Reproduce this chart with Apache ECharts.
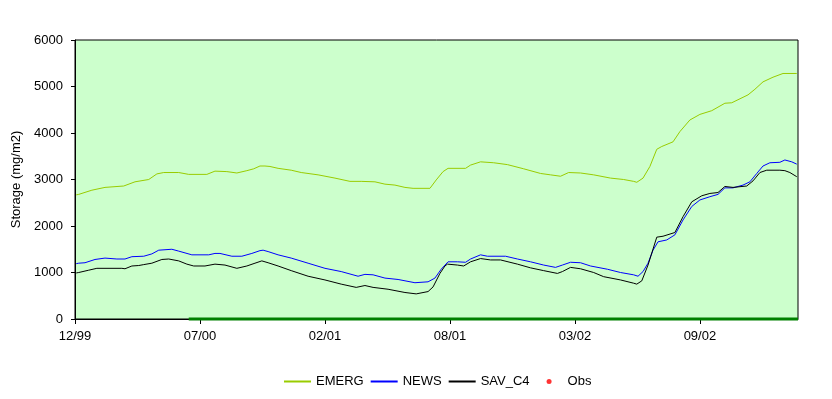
<!DOCTYPE html>
<html>
<head>
<meta charset="utf-8">
<title>Storage</title>
<script src="https://cdn.jsdelivr.net/npm/echarts@6/dist/echarts.min.js"></script>
<style>
  html, body { margin: 0; padding: 0; background: #fff; }
  #echart1 { width: 832px; height: 399px; }
</style>
</head>
<body>
<div id="echart1"></div>
<script>
// x = days since start of 12/99, y = mg/m2
var tickLabels = ['12/99', '07/00', '02/01', '08/01', '03/02', '09/02'];
var tickDays = 200;
var lastDay = 1157;

var emerg = [[2,2670],[6,2680],[27,2770],[48,2830],[78,2860],[96,2950],[118,3000],[131,3120],[142,3150],[166,3150],
    [182,3110],[211,3110],[224,3180],[243,3170],[259,3140],[275,3190],[286,3230],[296,3290],[304,3290],[312,3280],
    [325,3240],[346,3200],[362,3150],[389,3100],[416,3030],[440,2960],[458,2960],[480,2950],[496,2900],[512,2880],
    [528,2830],[541,2810],[568,2810],[578,2990],[589,3170],[597,3240],[625,3240],[633,3310],[649,3380],[670,3360],
    [692,3320],[718,3230],[745,3130],[761,3100],[777,3070],[790,3150],[809,3140],[830,3100],[857,3030],[878,3000],
    [894,2960],[899,2940],[909,3030],[920,3280],[931,3650],[939,3710],[957,3810],[968,4030],[984,4280],[1000,4400],
    [1019,4480],[1040,4640],[1051,4650],[1077,4820],[1088,4940],[1101,5100],[1117,5200],[1133,5280],[1155,5280]];

var news = [[2,1190],[6,1200],[16,1210],[32,1280],[48,1310],[67,1290],[80,1290],[91,1340],[110,1350],[123,1400],
    [134,1480],[155,1500],[166,1460],[187,1380],[214,1380],[224,1410],[232,1410],[251,1350],[267,1350],[283,1410],
    [296,1470],[301,1480],[309,1450],[325,1380],[346,1310],[373,1200],[400,1090],[426,1020],[453,920],[464,960],
    [477,950],[496,880],[517,850],[544,780],[565,800],[576,880],[586,1070],[597,1230],[612,1230],[625,1220],
    [633,1290],[649,1380],[660,1350],[689,1350],[708,1290],[729,1230],[750,1160],[769,1110],[780,1160],[793,1220],
    [809,1210],[825,1140],[852,1070],[873,1000],[894,950],[901,920],[909,1020],[917,1200],[925,1480],[933,1660],
    [947,1700],[960,1810],[973,2130],[987,2420],[1000,2560],[1016,2630],[1029,2680],[1040,2820],[1053,2820],[1069,2880],
    [1080,2950],[1091,3130],[1101,3290],[1112,3360],[1128,3370],[1136,3420],[1147,3380],[1155,3330]];

var savC4 = [[2,990],[6,1000],[22,1050],[35,1090],[75,1090],[80,1080],[91,1140],[102,1150],[110,1170],[123,1200],
    [139,1280],[150,1290],[166,1250],[179,1180],[190,1140],[208,1140],[224,1180],[240,1160],[259,1090],[275,1140],
    [288,1200],[299,1250],[309,1210],[325,1140],[346,1040],[373,920],[400,840],[426,750],[450,680],[464,720],
    [477,680],[501,640],[528,570],[546,540],[565,590],[573,690],[584,980],[592,1140],[596,1180],[612,1160],
    [622,1140],[633,1230],[649,1300],[665,1270],[681,1270],[708,1180],[729,1100],[750,1040],[772,980],[780,1020],
    [793,1110],[809,1080],[830,1000],[846,910],[873,840],[894,770],[899,750],[907,820],[917,1160],[931,1760],
    [941,1780],[960,1860],[973,2200],[987,2520],[1003,2650],[1016,2700],[1029,2720],[1040,2850],[1053,2830],[1075,2860],
    [1085,2970],[1096,3150],[1107,3200],[1128,3200],[1136,3190],[1144,3150],[1155,3060]];

var obsBase = [[182,0],[1157,0]];
var obs = [];

window.onload = function () {
    echart1();
};

function echart1() {
    var myChart = echarts.init(document.getElementById('echart1'));
    var font = 'Liberation Sans, Arial, sans-serif';
    var noDot = { opacity: 0 };
    // small dot centred in a 27x6 box (the bare M points keep the box full width)
    var dotIcon = 'path://M0,0 M27,6 M11,3 A2.5,2.5 0 1,0 16,3 A2.5,2.5 0 1,0 11,3 Z';
    option = {
        animation: false,
        textStyle: { fontFamily: font },
        legend: {
            data: [
                { name: 'EMERG', itemStyle: noDot },
                { name: 'NEWS', itemStyle: noDot },
                { name: 'SAV_C4', itemStyle: noDot },
                { name: 'Obs', icon: dotIcon }
            ],
            left: 278,
            top: 370,
            itemWidth: 27,
            itemHeight: 6,
            itemGap: 6,
            textStyle: { color: '#000', fontSize: 13, fontFamily: font }
        },
        grid: {
            left: 75,
            right: 34,
            top: 40,
            bottom: 80,
            show: true,
            backgroundColor: '#CCFFCC',
            borderColor: '#000',
            borderWidth: 1
        },
        xAxis: {
            type: 'value',
            min: 0,
            max: lastDay,
            interval: tickDays,
            splitLine: { show: false },
            axisLine: { lineStyle: { color: '#000' } },
            axisTick: { length: 5, lineStyle: { color: '#000' } },
            axisLabel: {
                color: '#000',
                fontSize: 13,
                margin: 11,
                showMaxLabel: false,
                formatter: function (v) {
                    var i = v / tickDays;
                    return tickLabels[i] || '';
                }
            }
        },
        yAxis: {
            type: 'value',
            name: 'Storage (mg/m2)',
            nameLocation: 'middle',
            nameGap: 47,
            nameTextStyle: { color: '#000', fontSize: 13 },
            min: 0,
            max: 6000,
            interval: 1000,
            splitLine: { show: false },
            axisLine: { show: true, lineStyle: { color: '#000' } },
            axisTick: { show: true, length: 4, lineStyle: { color: '#000' } },
            axisLabel: {
                color: '#000',
                fontSize: 13,
                margin: 12,
                formatter: function (v) { return String(v); }
            }
        },
        series: [
            {
                name: 'ObsBase',
                type: 'line',
                data: obsBase,
                symbol: 'none',
                clip: false,
                z: 5,
                lineStyle: { color: '#008000', width: 3 }
            },
            {
                name: 'EMERG',
                type: 'line',
                data: emerg,
                symbol: 'none',
                color: '#99CC00',
                lineStyle: { color: '#99CC00', width: 1 }
            },
            {
                name: 'NEWS',
                type: 'line',
                data: news,
                symbol: 'none',
                color: '#0000FF',
                lineStyle: { color: '#0000FF', width: 1 }
            },
            {
                name: 'SAV_C4',
                type: 'line',
                data: savC4,
                symbol: 'none',
                color: '#000000',
                lineStyle: { color: '#000000', width: 1 }
            },
            {
                name: 'Obs',
                type: 'scatter',
                data: obs,
                symbol: 'circle',
                symbolSize: 4,
                itemStyle: { color: '#FF0000' }
            }
        ]
    };
    myChart.setOption(option);
}
</script>
</body>
</html>
